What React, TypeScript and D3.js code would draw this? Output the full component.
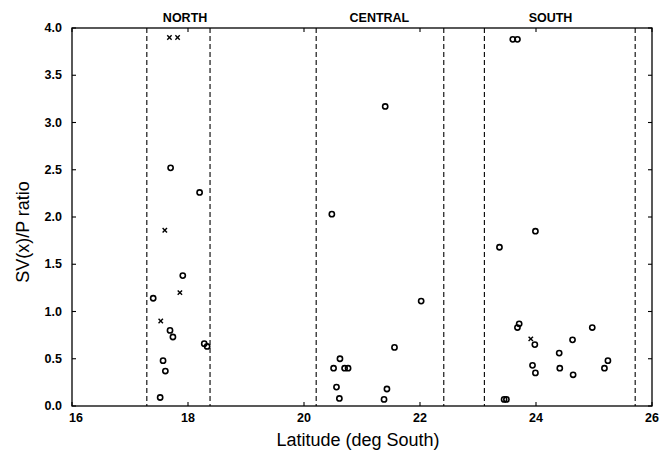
import React from "react";
import * as d3 from "d3";

// Station ratios by latitude: [latitude, ratio]
const northCircles: [number, number][] = [
  [17.7, 2.52], [18.2, 2.26], [17.91, 1.38], [17.4, 1.14], [17.69, 0.8],
  [17.74, 0.73], [18.28, 0.66], [18.33, 0.63], [17.57, 0.48], [17.61, 0.37], [17.52, 0.09],
];
const northCrosses: [number, number][] = [
  [17.68, 3.9], [17.82, 3.9], [17.6, 1.86], [17.86, 1.2], [17.53, 0.9],
];
const centralCircles: [number, number][] = [
  [21.4, 3.17], [20.48, 2.03], [22.02, 1.11], [21.56, 0.62], [20.62, 0.5],
  [20.51, 0.4], [20.7, 0.4], [20.76, 0.4], [20.56, 0.2], [21.43, 0.18], [20.61, 0.08], [21.38, 0.07],
];
const southCircles: [number, number][] = [
  [23.6, 3.88], [23.68, 3.88], [23.37, 1.68], [23.99, 1.85], [23.71, 0.87], [23.68, 0.83],
  [24.97, 0.83], [24.63, 0.7], [23.98, 0.65], [24.4, 0.56], [25.24, 0.48], [25.18, 0.4],
  [23.94, 0.43], [23.99, 0.35], [24.41, 0.4], [24.64, 0.33], [23.45, 0.07], [23.49, 0.07],
];
const southCrosses: [number, number][] = [[23.91, 0.71]];

// Region boundaries (dashed) and region titles
const boundaries = [17.29, 18.38, 20.21, 22.41, 23.11, 25.71];
const regions = ["NORTH", "CENTRAL", "SOUTH"];
const regionCenters = [17.95, 21.3, 24.25];

const xTicks = [16, 18, 20, 22, 24, 26];
const yTicks = [0, 0.5, 1, 1.5, 2, 2.5, 3, 3.5, 4];

const W = 665;
const H = 450;
const M = { left: 72, right: 13, top: 28, bottom: 44 };

export default function App() {
  const x = d3.scaleLinear().domain([16, 26]).range([M.left, W - M.right]);
  const y = d3.scaleLinear().domain([0, 4]).range([H - M.bottom, M.top]);
  const font = "'Liberation Sans', Arial, Helvetica, sans-serif";
  const circles = [...northCircles, ...centralCircles, ...southCircles];
  const crosses = [...northCrosses, ...southCrosses];
  const x0 = x(16), x1 = x(26), y0 = y(0), y1 = y(4);
  const tl = 4;

  return (
    <svg width={W} height={H} style={{ position: "absolute", left: 0, top: 0, background: "#fff" }}>
      <rect x={0} y={0} width={W} height={H} fill="#fff" />
      {/* dashed region boundaries */}
      {boundaries.map((b, i) => (
        <line key={"b" + i} x1={x(b)} x2={x(b)} y1={y1} y2={y0}
          stroke="#000" strokeWidth={1.1} strokeDasharray="5,3" />
      ))}
      {/* frame */}
      <rect x={x0} y={y1} width={x1 - x0} height={y0 - y1} fill="none" stroke="#000" strokeWidth={1.3} />
      {/* x ticks */}
      {xTicks.map((t) => (
        <g key={"xt" + t}>
          <line x1={x(t)} x2={x(t)} y1={y0} y2={y0 - tl} stroke="#000" strokeWidth={1.1} />
          <line x1={x(t)} x2={x(t)} y1={y1} y2={y1 + tl} stroke="#000" strokeWidth={1.1} />
          <text x={x(t) + (t === 16 ? 4 : 0)} y={y0 + 16} textAnchor="middle" fontFamily={font}
            fontWeight="bold" fontSize={12.5}>{t}</text>
        </g>
      ))}
      {/* y ticks */}
      {yTicks.map((t) => (
        <g key={"yt" + t}>
          <line x1={x0} x2={x0 + tl} y1={y(t)} y2={y(t)} stroke="#000" strokeWidth={1.1} />
          <line x1={x1} x2={x1 - tl} y1={y(t)} y2={y(t)} stroke="#000" strokeWidth={1.1} />
          <text x={x0 - 10} y={y(t) + 4} textAnchor="end" fontFamily={font}
            fontWeight="bold" fontSize={12.5}>{t.toFixed(1)}</text>
        </g>
      ))}
      {/* region titles */}
      {regions.map((r, i) => (
        <text key={r} x={x(regionCenters[i])} y={y1 - 6} textAnchor="middle" fontFamily={font}
          fontWeight="bold" fontSize={12.5}>{r}</text>
      ))}
      {/* circle markers */}
      {circles.map(([lat, v], i) => (
        <circle key={"c" + i} cx={x(lat)} cy={y(v)} r={2.6} fill="none" stroke="#000" strokeWidth={1.6} />
      ))}
      {/* cross markers */}
      {crosses.map(([lat, v], i) => (
        <g key={"x" + i} stroke="#000" strokeWidth={1.4}>
          <line x1={x(lat) - 2.2} x2={x(lat) + 2.2} y1={y(v) - 2.2} y2={y(v) + 2.2} />
          <line x1={x(lat) - 2.2} x2={x(lat) + 2.2} y1={y(v) + 2.2} y2={y(v) - 2.2} />
        </g>
      ))}
      {/* axis titles */}
      <text x={358} y={H - 4} textAnchor="middle" fontFamily={font} fontSize={18}>
        Latitude (deg South)
      </text>
      <text transform={`translate(29,232) rotate(-90)`} textAnchor="middle"
        fontFamily={font} fontSize={18}>
        SV(x)/P ratio
      </text>
    </svg>
  );
}
